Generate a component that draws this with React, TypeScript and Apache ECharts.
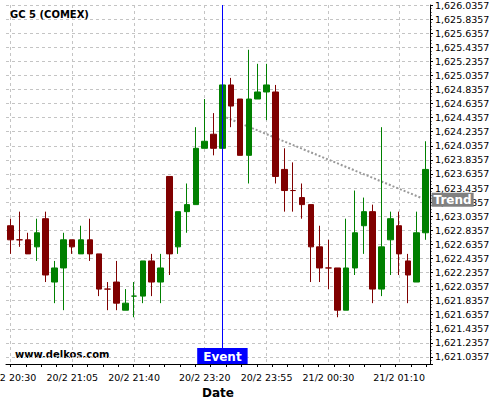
import React, { useEffect, useRef } from "react";
import * as echarts from "echarts";

const categories = [
  "20/2 20:30", "20/2 20:35", "20/2 20:40", "20/2 20:45", "20/2 20:50", "20/2 20:55",
  "20/2 21:00", "20/2 21:05", "20/2 21:10", "20/2 21:15", "20/2 21:20", "20/2 21:25",
  "20/2 21:30", "20/2 21:35", "20/2 21:40", "20/2 21:45", "20/2 21:50", "20/2 21:55",
  "20/2 23:00", "20/2 23:05", "20/2 23:10", "20/2 23:15", "20/2 23:20", "20/2 23:25",
  "20/2 23:30", "20/2 23:35", "20/2 23:40", "20/2 23:45", "20/2 23:50", "20/2 23:55",
  "21/2 00:00", "21/2 00:05", "21/2 00:10", "21/2 00:15", "21/2 00:20", "21/2 00:25",
  "21/2 00:30", "21/2 00:35", "21/2 00:40", "21/2 00:45", "21/2 00:50", "21/2 00:55",
  "21/2 01:00", "21/2 01:05", "21/2 01:10", "21/2 01:15", "21/2 01:20", "21/2 01:25",
];

const opens = [
  1622.9, 1622.7, 1622.7, 1622.6, 1623.0, 1622.1, 1622.3, 1622.7, 1622.5, 1622.7,
  1622.5, 1622.0, 1622.1, 1621.7, 1621.9, 1621.9, 1622.4, 1622.1, 1623.6, 1622.6,
  1623.1, 1623.2, 1624.0, 1624.2, 1624.0, 1624.9, 1624.7, 1623.9, 1624.7, 1624.8,
  1624.8, 1623.7, 1623.4, 1623.3, 1623.2, 1622.6, 1622.3, 1622.3, 1621.7, 1622.3,
  1622.9, 1623.1, 1622.0, 1622.7, 1622.9, 1622.4, 1622.1, 1622.8,
];
const closes = [
  1622.7, 1622.7, 1622.5, 1622.8, 1622.2, 1622.3, 1622.7, 1622.6, 1622.7, 1622.5,
  1622.0, 1622.0, 1621.8, 1621.8, 1621.9, 1622.4, 1622.1, 1622.3, 1622.5, 1623.1,
  1623.2, 1624.0, 1624.1, 1624.0, 1624.9, 1624.6, 1623.9, 1624.7, 1624.8, 1624.9,
  1623.6, 1623.4, 1623.4, 1623.2, 1622.6, 1622.3, 1622.3, 1621.7, 1622.3, 1622.8,
  1623.1, 1622.0, 1622.6, 1623.0, 1622.5, 1622.2, 1622.8, 1623.7,
];
const lows = [
  1622.5, 1622.6, 1622.5, 1622.4, 1622.1, 1621.8, 1621.7, 1622.5, 1622.5, 1622.4,
  1621.9, 1621.7, 1621.7, 1621.7, 1621.6, 1621.8, 1621.9, 1621.8, 1622.2, 1622.5,
  1622.8, 1623.2, 1624.0, 1623.9, 1624.0, 1624.3, 1623.9, 1623.5, 1624.7, 1624.4,
  1623.5, 1623.1, 1623.1, 1623.0, 1622.1, 1622.1, 1622.0, 1621.6, 1621.7, 1622.2,
  1622.5, 1621.8, 1621.9, 1622.2, 1622.2, 1621.8, 1622.1, 1622.7,
];
const highs = [
  1623.0, 1623.1, 1622.8, 1623.0, 1623.1, 1622.4, 1622.8, 1622.7, 1622.9, 1623.0,
  1622.5, 1622.1, 1622.4, 1622.0, 1622.1, 1622.4, 1622.5, 1622.5, 1623.6, 1623.1,
  1623.5, 1624.3, 1624.7, 1624.5, 1624.9, 1625.0, 1624.7, 1625.4, 1625.2, 1625.2,
  1624.9, 1624.0, 1623.8, 1623.5, 1623.2, 1622.9, 1622.7, 1622.3, 1623.0, 1623.4,
  1623.3, 1623.2, 1624.3, 1623.1, 1623.1, 1622.5, 1623.1, 1624.1,
];

// Dojis that the reference draws in the "up" colour
const greenDojiIndices = [14];

const labelIndices = [0, 7, 14, 22, 29, 36, 44];
const eventIndex = 24;
const eventLabel = "Event";
const trendStartIndex = 24;
const trendStartValue = 1624.46;
const trendEndIndex = 47;
const trendEndValue = 1623.27;
const trendLabel = "Trend";

// y axis: labels sit at x.x357 levels
const labelOffset = 0.0357;
const yMinReal = 1620.9357;
const yMaxReal = 1626.0357;

const title = "GC 5 (COMEX)";
const watermark = "www.delkos.com";
const xAxisName = "Date";

const UP = "#008000";
const DOWN = "#800000";
const FONT = "DejaVu Sans";

const shift = (v: number) => Math.round((v - labelOffset) * 10000) / 10000;

function fmt(v: number) {
  const r = (v + labelOffset).toFixed(4);
  const [i, d] = r.split(".");
  return i.replace(/\B(?=(\d{3})+(?!\d))/g, ",") + "." + d;
}

export default function App() {
  const ref = useRef<HTMLDivElement>(null);
  useEffect(() => {
    if (!ref.current) return;
    const chart = echarts.init(ref.current, undefined, { renderer: "svg" });
    const candleData = categories.map((_, i) => {
      const item: any = {
        value: [shift(opens[i]), shift(closes[i]), shift(lows[i]), shift(highs[i])],
      };
      if (greenDojiIndices.includes(i)) {
        item.itemStyle = { borderColorDoji: UP };
      }
      return item;
    });
    const yMin = shift(yMinReal);
    const yMax = shift(yMaxReal);
    const gridLine = { color: "#c4c4c4", width: 1, type: [3, 3] as any };

    chart.setOption({
      animation: false,
      backgroundColor: "#ffffff",
      title: {
        text: title,
        left: 10,
        top: 9,
        padding: 0,
        textStyle: { fontSize: 10, fontWeight: "bold", fontFamily: FONT, color: "#000" },
      },
      graphic: [
        {
          type: "text",
          left: 15,
          top: 349,
          style: { text: watermark, font: `bold 10px "${FONT}"`, fill: "#000" },
        },
      ],
      grid: [
        { left: 6, right: 70, top: 5, bottom: 36, outerBoundsMode: "none", containLabel: false },
        { left: 10.5, right: 73.7, top: 5, bottom: 36, outerBoundsMode: "none", containLabel: false },
      ],
      xAxis: [
        {
          type: "category",
          data: categories,
          gridIndex: 0,
          boundaryGap: true,
          name: xAxisName,
          nameLocation: "middle",
          nameGap: 17,
          nameTextStyle: { fontSize: 12, fontWeight: "bold", fontFamily: FONT, color: "#000" },
          axisLine: { show: true, lineStyle: { color: "#000", width: 1 } },
          axisTick: { show: false },
          axisLabel: {
            interval: (idx: number) => labelIndices.includes(idx),
            fontSize: 9.5,
            fontFamily: FONT,
            color: "#000",
            margin: 8,
          },
          splitLine: {
            show: true,
            interval: (idx: number) => labelIndices.includes(idx),
            alignWithLabel: true,
            lineStyle: gridLine,
          },
        },
        {
          type: "value",
          gridIndex: 1,
          min: 0,
          max: 27,
          interval: 1,
          axisLine: { show: false },
          axisTick: { show: true, length: 3, lineStyle: { color: "#000" } },
          axisLabel: { show: false },
          splitLine: { show: false },
        },
      ],
      yAxis: [
        {
          type: "value",
          gridIndex: 0,
          position: "right",
          min: yMin,
          max: yMax,
          splitNumber: 25,
          scale: true,
          axisLine: { show: true, lineStyle: { color: "#000", width: 1 } },
          axisTick: { show: true, length: 3, lineStyle: { color: "#000" } },
          minorTick: { show: true, splitNumber: 4, length: 1.5, lineStyle: { color: "#000" } },
          axisLabel: {
            formatter: fmt,
            showMinLabel: false,
            fontSize: 9.5,
            fontFamily: FONT,
            color: "#000",
            margin: 5,
          },
          splitLine: { show: true, lineStyle: gridLine },
        },
        {
          type: "value",
          gridIndex: 1,
          show: false,
          min: 0,
          max: 1,
        },
      ],
      series: [
        {
          type: "line",
          xAxisIndex: 0,
          yAxisIndex: 0,
          z: 1,
          silent: true,
          symbol: "none",
          showSymbol: false,
          data: [
            [categories[trendStartIndex], shift(trendStartValue)],
            [categories[trendEndIndex], shift(trendEndValue)],
          ],
          lineStyle: { color: "#999999", width: 2, type: "dotted" },
          markPoint: {
            symbol: "rect",
            symbolSize: 0,
            silent: true,
            data: [
              {
                coord: [categories[trendEndIndex], shift(trendEndValue)],
                label: {
                  show: true,
                  position: "right",
                  distance: 6,
                  formatter: trendLabel,
                  backgroundColor: "#808080",
                  color: "#fff",
                  fontSize: 12,
                  fontWeight: "bold",
                  fontFamily: FONT,
                  padding: [1, 2, 1, 2],
                  lineHeight: 12,
                },
              },
            ],
          },
        },
        {
          type: "candlestick",
          xAxisIndex: 0,
          yAxisIndex: 0,
          barWidth: 6,
          data: candleData,
          itemStyle: {
            color: UP,
            color0: DOWN,
            borderColor: UP,
            borderColor0: DOWN,
            borderColorDoji: DOWN,
            borderWidth: 1,
          },
          markLine: {
            silent: true,
            symbol: "none",
            label: { show: false },
            lineStyle: { color: "#0000ff", width: 1, type: "solid" },
            data: [{ xAxis: categories[eventIndex] }],
          },
          markPoint: {
            symbol: "rect",
            symbolSize: 0,
            silent: true,
            data: [
              {
                coord: [categories[eventIndex], yMin],
                label: {
                  show: true,
                  position: "top",
                  distance: 0,
                  formatter: eventLabel,
                  backgroundColor: "#0000ff",
                  color: "#fff",
                  fontSize: 12,
                  fontWeight: "bold",
                  fontFamily: FONT,
                  padding: [2, 6, 1, 6],
                  lineHeight: 13,
                },
              },
            ],
          },
        },
      ],
    });
    return () => chart.dispose();
  }, []);
  return (
    <div
      ref={ref}
      style={{ position: "absolute", left: 0, top: 0, width: 500, height: 400 }}
    />
  );
}
